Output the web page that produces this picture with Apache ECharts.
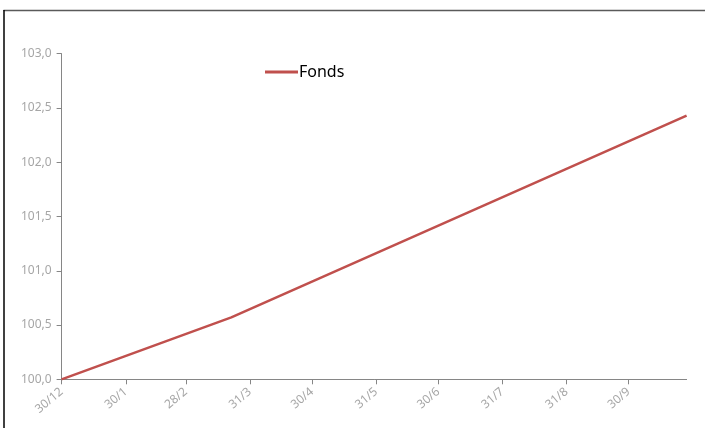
<!DOCTYPE html>
<html>
<head>
<meta charset="utf-8">
<script src="https://cdn.jsdelivr.net/npm/echarts@6/dist/echarts.min.js"></script>
<style>html,body{margin:0;padding:0;background:#fff;}#c{width:705px;height:428px;}</style>
</head>
<body>
<div id="c"></div>
<script>
// Data
const startDate = '2014-12-30';
const pointDates = ['2014-12-30', '2015-03-22', '2015-10-28'];
const fondsValues = [100.0, 100.57, 102.43];
const tickDates = ['2014-12-30','2015-01-30','2015-02-28','2015-03-31','2015-04-30','2015-05-31','2015-06-30','2015-07-31','2015-08-31','2015-09-30'];
const tickLabels = ['30/12','30/1','28/2','31/3','30/4','31/5','30/6','31/7','31/8','30/9'];
const endDate = '2015-10-28';
const yTicks = [100.0, 100.5, 101.0, 101.5, 102.0, 102.5, 103.0];

const DAY = 86400000;
const t0 = Date.parse(startDate + 'T00:00:00Z');
const dayOf = d => Math.round((Date.parse(d + 'T00:00:00Z') - t0) / DAY);
const tickDays = tickDates.map(dayOf);
const labelByDay = {};
tickDays.forEach((d, i) => { labelByDay[d] = tickLabels[i]; });

const chart = echarts.init(document.getElementById('c'), null, {renderer: 'canvas'});
const gray = '#A6A6A6';
chart.setOption({
  animation: false,
  backgroundColor: '#fff',
  graphic: [
    {type: 'line', shape: {x1: 3.5, y1: 10.5, x2: 705, y2: 10.5}, style: {stroke: '#5a5a5a', lineWidth: 1.5}, silent: true},
    {type: 'line', shape: {x1: 4, y1: 10, x2: 4, y2: 428}, style: {stroke: '#000', lineWidth: 1.5}, silent: true}
  ],
  legend: {
    left: 260, top: 59,
    icon: 'rect', itemWidth: 33, itemHeight: 3, itemGap: 10,
    textStyle: {fontFamily: 'Noto Sans', fontSize: 16, color: '#000', padding: [0, 0, 0, -4]},
    data: [{name: 'Fonds'}]
  },
  grid: {left: 61.6, right: 18.4, top: 53.7, bottom: 48.7, containLabel: false},
  xAxis: {
    type: 'value',
    min: 0,
    max: dayOf(endDate),
    splitLine: {show: false},
    axisLine: {lineStyle: {color: '#868686', width: 1}},
    axisTick: {show: true, length: 5, lineStyle: {color: '#868686'}, customValues: tickDays},
    axisLabel: {
      customValues: tickDays,
      formatter: v => labelByDay[v] || '',
      rotate: 40, margin: 11,
      color: gray, fontFamily: 'Noto Sans', fontSize: 12
    }
  },
  yAxis: {
    type: 'value',
    min: 100, max: 103, interval: 0.5,
    splitLine: {show: false},
    axisLine: {show: true, lineStyle: {color: '#868686', width: 1}},
    axisTick: {show: true, length: 5, lineStyle: {color: '#868686'}},
    axisLabel: {
      formatter: v => v.toFixed(1).replace('.', ','),
      color: gray, fontFamily: 'Noto Sans', fontSize: 12, margin: 10
    }
  },
  series: [{
    name: 'Fonds',
    type: 'line',
    showSymbol: false,
    symbol: 'none',
    itemStyle: {color: '#C0504D'},
    lineStyle: {color: '#C0504D', width: 2.5},
    data: pointDates.map((d, i) => [dayOf(d), fondsValues[i]])
  }]
});
</script>
</body>
</html>
